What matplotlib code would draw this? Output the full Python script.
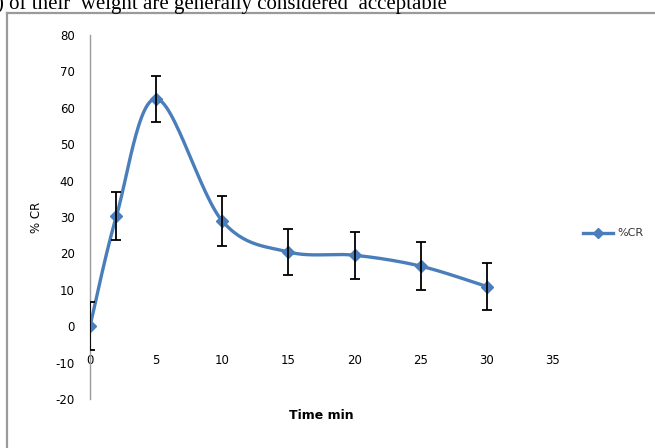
import numpy as np
import matplotlib
matplotlib.use("Agg")
import matplotlib.pyplot as plt
from matplotlib.lines import Line2D

plt.rcParams['axes.unicode_minus'] = False

# data
time_min = [0, 2, 5, 10, 15, 20, 25, 30]
cr_pct = [0.0, 30.3, 62.5, 28.9, 20.4, 19.5, 16.5, 10.9]
cr_err = [6.6, 6.6, 6.3, 6.8, 6.3, 6.5, 6.6, 6.4]
x_ticks = [0, 5, 10, 15, 20, 25, 30, 35]
y_ticks = [-20, -10, 0, 10, 20, 30, 40, 50, 60, 70, 80]

blue = "#4a7ebb"


def smooth_curve(x, y, n=30):
    # Excel-like smoothed line (Catmull-Rom style bezier through the points)
    x = np.asarray(x, float)
    y = np.asarray(y, float)
    px = np.concatenate([[x[0]], x, [x[-1]]])
    py = np.concatenate([[y[0]], y, [y[-1]]])
    xs, ys = [], []
    t = np.linspace(0, 1, n)
    for i in range(1, len(px) - 2):
        p0 = np.array([px[i], py[i]])
        p3 = np.array([px[i + 1], py[i + 1]])
        p1 = p0 + (np.array([px[i + 1], py[i + 1]]) - np.array([px[i - 1], py[i - 1]])) / 6.0
        p2 = p3 - (np.array([px[i + 2], py[i + 2]]) - np.array([px[i], py[i]])) / 6.0
        b = ((1 - t) ** 3)[:, None] * p0 + (3 * (1 - t) ** 2 * t)[:, None] * p1 \
            + (3 * (1 - t) * t ** 2)[:, None] * p2 + (t ** 3)[:, None] * p3
        xs.extend(b[:, 0])
        ys.extend(b[:, 1])
    return xs, ys


fig = plt.figure(figsize=(6.55, 4.48), dpi=100)
ax = fig.add_axes([90 / 655, 49 / 448, 463 / 655, 364 / 448])

sx, sy = smooth_curve(time_min, cr_pct)
ax.plot(sx, sy, color=blue, lw=2.4, solid_capstyle="round", zorder=3)
ax.plot(time_min, cr_pct, ls="none", marker="D", ms=6.5, color=blue, zorder=4)
ax.errorbar(time_min, cr_pct, yerr=cr_err, fmt="none", ecolor="black",
            elinewidth=1.3, capsize=3.5, capthick=1.3, zorder=5)

ax.set_xlim(0, 35)
ax.set_ylim(-20, 80)
ax.set_xticks(x_ticks)
ax.set_yticks(y_ticks)

for s in ["top", "right"]:
    ax.spines[s].set_visible(False)
ax.spines["bottom"].set_position(("data", -5))
ax.spines["bottom"].set_visible(False)
ax.spines["left"].set_color("#9a9a9a")
ax.spines["left"].set_linewidth(1.0)

ax.tick_params(axis="x", length=0, pad=7, labelsize=8.5)
ax.tick_params(axis="y", length=0, pad=11, labelsize=8.5)

ax.set_xlabel("Time min", fontsize=9, fontweight="bold", labelpad=30)
ax.set_ylabel("% CR", fontsize=8.5, labelpad=9)

# legend
ly = 1 - 233 / 448
fig.add_artist(Line2D([583 / 655, 613 / 655], [ly, ly], color=blue, lw=2.4))
fig.add_artist(Line2D([598 / 655], [ly], color=blue, marker="D", ms=5))
fig.text(617 / 655, ly, "%CR", fontsize=8, va="center", ha="left", color="#333333")

# frame of the chart box
fig.add_artist(Line2D([7 / 655, 7 / 655], [0, 1 - 13 / 448], color="#9a9a9a", lw=1.6))
fig.add_artist(Line2D([7 / 655, 1], [1 - 13 / 448, 1 - 13 / 448], color="#9a9a9a", lw=1.6))

# document text cut off above the chart
fig.text(-0.004, 1 - 9 / 448, ") of their  weight are generally considered  acceptable",
         fontsize=15, family="Liberation Serif", va="baseline", ha="left")

fig.savefig("out.png", dpi=100)
